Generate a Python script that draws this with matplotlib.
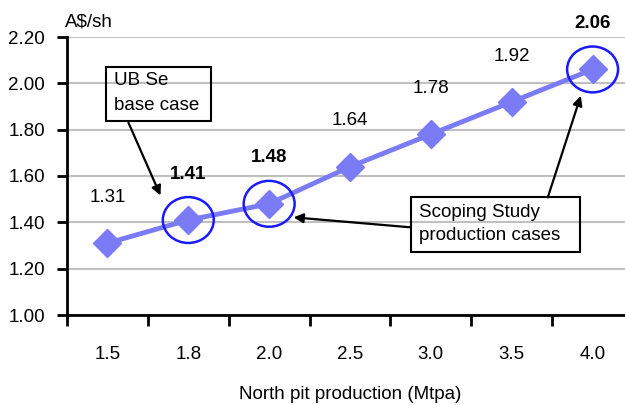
import matplotlib
matplotlib.use("Agg")
import matplotlib.pyplot as plt
from matplotlib.patches import Ellipse, Rectangle

production = ["1.5", "1.8", "2.0", "2.5", "3.0", "3.5", "4.0"]
value = [1.31, 1.41, 1.48, 1.64, 1.78, 1.92, 2.06]
bold_labels = [False, True, True, False, False, False, True]
circled = [1, 2, 6]

plt.rcParams["font.family"] = ["Liberation Sans", "DejaVu Sans"]

line_col = "#7b7bf5"
fs = 13.5

fig = plt.figure(figsize=(6.25, 4.05), dpi=100)
ax = fig.add_axes([67 / 625, 90 / 405, 566 / 625, 278 / 405])

x = list(range(len(production)))
ax.plot(x, value, color=line_col, lw=3.5, marker="D", ms=14, mfc=line_col, mec=line_col, zorder=3)

for i, v in enumerate(value):
    ax.annotate(f"{v:.2f}", (i, v), xytext=(0, 33), textcoords="offset points",
                ha="center", va="center", fontsize=fs,
                fontweight="bold" if bold_labels[i] else "normal")

for i in circled:
    ax.add_patch(Ellipse((i, value[i]), 0.63, 0.198, fill=False, ec="#1a1aff", lw=1.8, zorder=4))

ax.set_xlim(-0.5, 6.5)
ax.set_ylim(1.0, 2.2)
ax.set_yticks([1.0, 1.2, 1.4, 1.6, 1.8, 2.0, 2.2])
ax.set_yticklabels([f"{t:.2f}" for t in ax.get_yticks()])
ax.set_xticks(x)
ax.set_xticklabels(production)
ax.set_xticks([i - 0.5 for i in range(len(production) + 1)], minor=True)
ax.tick_params(axis="x", which="major", length=0, pad=22, labelsize=fs)
ax.tick_params(axis="x", which="minor", length=8, width=2, direction="out")
ax.tick_params(axis="y", length=7, width=2, pad=9, labelsize=fs)
ax.grid(axis="y", color="#c0c0c0", lw=1.5)
ax.set_axisbelow(True)
for s in ["top", "right"]:
    ax.spines[s].set_visible(False)
for s in ["left", "bottom"]:
    ax.spines[s].set_linewidth(2)
ax.set_xlabel("North pit production (Mtpa)", fontsize=fs, labelpad=17)
fig.text(65 / 625, 1 - 22 / 405, "A$/sh", fontsize=fs, va="center", ha="left")

# callout boxes
ax.add_patch(Rectangle((-0.012, 1.839), 1.299, 0.232, fill=False, ec="black", lw=1.5, zorder=5))
ax.text(0.087, 2.011, "UB Se", fontsize=13.5, va="center")
ax.text(0.087, 1.903, "base case", fontsize=13.5, va="center")
ax.add_patch(Rectangle((3.75, 1.271), 2.092, 0.2365, fill=False, ec="black", lw=1.5, zorder=5))
ax.text(3.849, 1.443, "Scoping Study", fontsize=13.5, va="center")
ax.text(3.849, 1.344, "production cases", fontsize=13.5, va="center")

arrow = dict(arrowstyle="-|>", color="black", lw=1.6, mutation_scale=14, shrinkA=0, shrinkB=0)
ax.annotate("", xy=(0.656, 1.516), xytext=(0.26, 1.830), arrowprops=arrow)
ax.annotate("", xy=(2.302, 1.4215), xytext=(3.75, 1.3785), arrowprops=arrow)
ax.annotate("", xy=(5.854, 1.946), xytext=(5.446, 1.5075), arrowprops=arrow)

fig.savefig("out.png", dpi=100)
